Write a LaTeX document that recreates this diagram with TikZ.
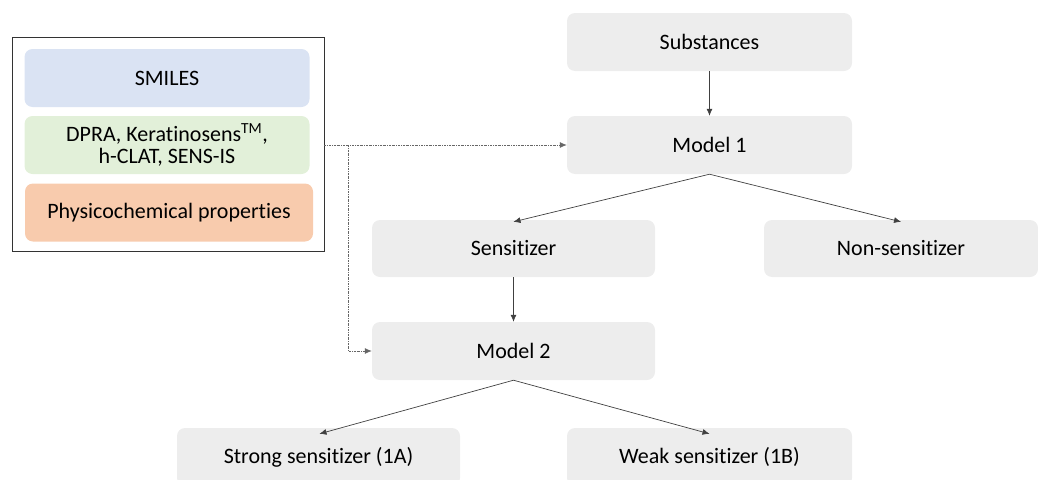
\documentclass[tikz,border=0pt]{standalone}
\usepackage{fontspec}
\setmainfont{Carlito}[Ligatures={NoCommon}]
\usetikzlibrary{arrows.meta}
\definecolor{boxgray}{HTML}{EDEDED}
\definecolor{smblue}{HTML}{DAE3F3}
\definecolor{dpgreen}{HTML}{E2F0D9}
\definecolor{phorange}{HTML}{F8CBAD}
\definecolor{linegray}{HTML}{404040}
\begin{document}
\begin{tikzpicture}[x=1pt,y=-1pt,
  every node/.style={font=\fontsize{22}{25}\selectfont, text=black},
  flowbox/.style={rectangle, rounded corners=8pt, fill=boxgray, draw=none, inner sep=0pt, minimum height=58pt},
  inbox/.style={rectangle, rounded corners=8pt, draw=none, inner sep=0pt, minimum height=58pt, minimum width=285pt, align=center},
  conn/.style={draw=linegray, line width=0.7pt, -{Latex[length=7pt,width=6pt]}},
  dotconn/.style={draw=black!60, line width=0.8pt, dash pattern=on 2pt off 1pt on 0.6pt off 1pt, -{Latex[length=7pt,width=6pt]}}
]
\useasboundingbox (0,0) rectangle (1038,479);
\clip (0,0) rectangle (1038,479);
% input panel
\node[draw=black!80, line width=0.9pt, rectangle, inner sep=0pt, minimum width=312pt, minimum height=214pt] (panel) at (168,144) {};
\node[inbox, fill=smblue] (smiles) at (167,78) {SMILES};
\node[inbox, fill=dpgreen] (assays) at (167,145) {DPRA, Keratinosens\textsuperscript{TM},\\[-3pt]h-CLAT, SENS-IS};
\node[inbox, fill=phorange, minimum width=288pt] (phys) at (169,212.5) {Physicochemical properties};
% flow boxes
\node[flowbox, minimum width=285pt] (subst) at (709.5,42) {Substances};
\node[flowbox, minimum width=285pt] (m1) at (709.5,145) {Model 1};
\node[flowbox, minimum width=283pt, minimum height=57pt] (sens) at (513.5,248.5) {Sensitizer};
\node[flowbox, minimum width=274pt, minimum height=57pt] (nons) at (901,248.5) {Non-sensitizer};
\node[flowbox, minimum width=283pt] (m2) at (513.5,351) {Model 2};
\node[flowbox, minimum width=283pt] (strong) at (318.5,457) {Strong sensitizer (1A)};
\node[flowbox, minimum width=285pt] (weak) at (709.5,457) {Weak sensitizer (1B)};
% connectors
\draw[conn] (subst.south) -- (m1.north);
\draw[conn] (m1.south) -- ([yshift=-2pt]sens.north);
\draw[conn] (m1.south) -- ([yshift=-2pt]nons.north);
\draw[conn] (sens.south) -- (m2.north);
\draw[conn] (m2.south) -- ([xshift=1pt,yshift=-6pt]strong.north);
\draw[conn] (m2.south) -- ([yshift=-6pt]weak.north);
\coordinate (start) at (panel.east |- m1.west);
\coordinate (branch) at (348,145);
\draw[dotconn] (start) -- (m1.west);
\draw[dotconn] (branch) |- (m2.west);
\end{tikzpicture}
\end{document}
